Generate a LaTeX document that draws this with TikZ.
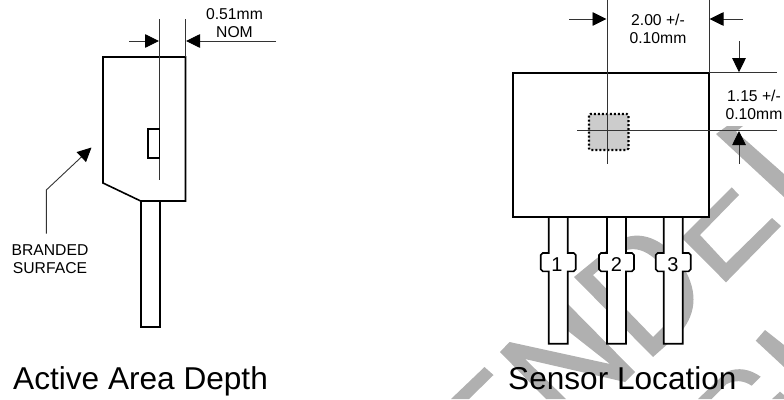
\documentclass[tikz,border=0pt]{standalone}
\usepackage{fontspec}
\setmainfont{Liberation Sans}
\usetikzlibrary{positioning,arrows.meta}

\tikzset{
  outline/.style={draw=black,line width=1.6pt,fill=white,line join=miter},
  thinline/.style={draw=black!80,line width=0.9pt},
  dimarrow/.style={thinline,-{Triangle[length=14pt,width=13.5pt,color=black]}},
  watermark/.style={fill=black!31,draw=none},
  dimtext/.style={inner sep=0pt,align=center,font=\fontsize{15.7}{18}\selectfont},
  pintext/.style={inner sep=0pt,font=\fontsize{20}{22}\selectfont},
  titletext/.style={inner sep=0pt,anchor=base west,font=\fontsize{31.6}{34}\selectfont},
}

\begin{document}
\begin{tikzpicture}[x=1pt,y=-1pt]
  \useasboundingbox (0,0) rectangle (784,399);

  % Watermark letters
  \fill[watermark] (716,134) -- (727,126) -- (743,126) -- (736,131.5) -- (784,174) -- (784,197) -- cycle;
  \fill[watermark] (731.7,187.3) -- (739,195) -- (700,235) -- (726,263) -- (772,218) -- (781,226) -- (726,282.3) -- (681.5,237.5) -- cycle;
  \fill[watermark,even odd rule] (574,277) -- (618,241) .. controls (640,228) and (664,240) .. (680,262)
    .. controls (698,288) and (698,312) .. (680,333) -- (653,357) -- cycle
    (593,275) -- (618,254) .. controls (635,243) and (650,252) .. (664,268)
    .. controls (678,285) and (680,305) .. (665,325) -- (653,337) -- cycle;
  \fill[watermark] (500,352) -- (509.5,342) -- (610,364) -- (549,316) -- (558,294) -- (635,372) -- (625,382)
    -- (525,359) -- (566,399) -- (546,399) -- cycle;
  \fill[watermark] (484.5,367) -- (493.5,375) -- (469,399) -- (451,399) -- cycle;
  \fill[watermark] (755.7,340.7) -- (765,330) -- (784,345) -- (784,367) -- cycle;
  \fill[watermark] (772,399) -- (780,391.7) -- (784,395) -- (784,399) -- cycle;
  \fill[watermark] (698,399) -- (726.7,371.7) .. controls (738,367) and (750,369) .. (760.7,376.7)
    -- (751.7,385.7) .. controls (743,380) and (735,380) .. (726.7,384) -- (711.7,399) -- cycle;

  % Define the side view
  \coordinate (sidetl) at (103,57);
  \coordinate[right=82.5pt of sidetl](sidetr);
  \coordinate[below=126pt of sidetl](sidecut);
  \coordinate[below=144pt of sidetr](sidebr);
  \coordinate[left=44.8pt of sidebr](sidebc);
  \coordinate[right=19pt of sidebc](sidepin);
  \coordinate[below=126.3pt of sidebc](sidepinl);
  \coordinate[below=126.3pt of sidepin](sidepinr);

  \draw[outline,line width=1.9pt] (sidebc) -- (sidepinl) -- (sidepinr) -- (sidepin);
  \draw[outline] (sidetl) -- (sidecut) -- (sidebc) -- (sidebr) -- (sidetr) -- cycle;

  % Depth dimension
  \coordinate (depthtop) at (159.3,19);
  \coordinate (depthbot) at (159.3,179.5);
  \coordinate (facetop) at (185.5,19);
  \coordinate (deptha) at (129,41);
  \coordinate (depthb) at (159,41);
  \coordinate (depthc) at (276,41);
  \coordinate (depthd) at (186,41);
  \draw[thinline] (depthtop) -- (depthbot);
  \draw[thinline] (facetop) -- (sidetr);
  \draw[dimarrow] (deptha) -- (depthb);
  \draw[dimarrow] (depthc) -- (depthd);
  \draw[outline,fill=none,line width=1.6pt] (148,129) rectangle (159.6,158);
  \node[dimtext] (depthlabel) at (234.5,23.5) {0.51mm\\NOM};

  % Branded surface leader
  \node[dimtext] (brandlabel) at (50,259) {BRANDED\\SURFACE};
  \coordinate (leadera) at (46.3,233.5);
  \coordinate (leaderb) at (46.3,190);
  \coordinate (leaderc) at (91.5,147.5);
  \draw[dimarrow] (leadera) -- (leaderb) -- (leaderc);

  % Define the front view
  \coordinate (fronttl) at (513,72.7);
  \coordinate (frontbr) at (709,217);
  \draw[outline] (548.7,217) -- ++(0,36) -- ++(-6,0) -- ++(-2,2) -- ++(0,14.3) -- ++(2,2) -- ++(6,0) -- ++(0,72.4)
    -- ++(19,0) -- ++(0,-72.4) -- ++(6,0) -- ++(2,-2) -- ++(0,-14.3) -- ++(-2,-2) -- ++(-6,0) -- ++(0,-36);
  \draw[outline] (607,217) -- ++(0,36) -- ++(-6,0) -- ++(-2,2) -- ++(0,14.3) -- ++(2,2) -- ++(6,0) -- ++(0,72.4)
    -- ++(19,0) -- ++(0,-72.4) -- ++(6,0) -- ++(2,-2) -- ++(0,-14.3) -- ++(-2,-2) -- ++(-6,0) -- ++(0,-36);
  \draw[outline] (663.7,217) -- ++(0,36) -- ++(-6,0) -- ++(-2,2) -- ++(0,14.3) -- ++(2,2) -- ++(6,0) -- ++(0,72.4)
    -- ++(19,0) -- ++(0,-72.4) -- ++(6,0) -- ++(2,-2) -- ++(0,-14.3) -- ++(-2,-2) -- ++(-6,0) -- ++(0,-36);
  \draw[outline] (fronttl) rectangle (frontbr);
  \node[pintext] (pinone) at (557,265) {1};
  \node[pintext] (pintwo) at (616.5,265) {2};
  \node[pintext] (pinthree) at (673,265) {3};

  % Active area
  \draw[fill=black!20,draw=black,line width=2.1pt,dash pattern=on 2pt off 2pt,rounded corners=1.5pt] (589,114) rectangle (628.5,150);

  % Location dimensions
  \coordinate (crossvt) at (607,0);
  \coordinate[below=163.5pt of crossvt](crossvb);
  \coordinate (edgevt) at (709,0);
  \coordinate[below=72.7pt of edgevt](edgevb);
  \coordinate (crosshl) at (577,130.5);
  \coordinate[right=200pt of crosshl](crosshr);
  \coordinate (edgehr) at (777,72.7);
  \draw[thinline] (crossvt) -- (crossvb);
  \draw[thinline] (edgevt) -- (edgevb);
  \draw[thinline] (crosshl) -- (crosshr);
  \draw[thinline] (edgevb) -- (edgehr);
  \coordinate (widtha) at (569,19);
  \coordinate (widthb) at (606.5,19);
  \coordinate (widthc) at (743,19);
  \coordinate (widthd) at (709.5,19);
  \coordinate (heighta) at (739,41);
  \coordinate (heightb) at (739,72.2);
  \coordinate (heightc) at (739,163.5);
  \coordinate (heightd) at (739,131);
  \draw[dimarrow] (widtha) -- (widthb);
  \draw[dimarrow] (widthc) -- (widthd);
  \draw[dimarrow] (heighta) -- (heightb);
  \draw[dimarrow] (heightc) -- (heightd);
  \node[dimtext] (widthlabel) at (658,28.5) {2.00 +/-\\0.10mm};
  \node[dimtext] (heightlabel) at (754,104.5) {1.15 +/-\\0.10mm};

  % Titles
  \node[titletext] (activetitle) at (13,389) {Active Area Depth};
  \node[titletext] (sensortitle) at (508,389) {Sensor Location};
\end{tikzpicture}
\end{document}
